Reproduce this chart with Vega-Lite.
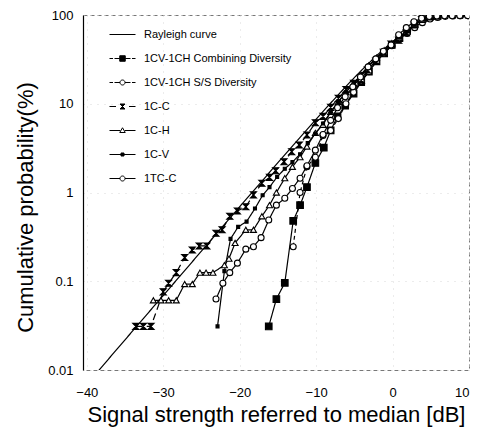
{
  "$schema": "https://vega.github.io/schema/vega-lite/v6.json",
  "width": 386,
  "height": 355,
  "autosize": "none",
  "padding": {"left": 83, "top": 15, "right": 16, "bottom": 60},
  "background": "white",
  "config": {
    "font": "Liberation Sans",
    "view": {"stroke": "#777", "strokeDash": [4, 3], "strokeWidth": 1},
    "axis": {"labelFont": "Liberation Sans", "titleFont": "Liberation Sans", "labelColor": "black", "titleColor": "black", "titleFontWeight": "normal"},
    "legend": {
      "orient": "none",
      "legendX": 34,
      "legendY": 14,
      "padding": 0,
      "symbolSize": 100,
      "symbolStrokeColor": "black",
      "symbolStrokeWidth": 1,
      "labelFont": "Liberation Sans",
      "labelFontSize": 11,
      "labelColor": "black",
      "labelOffset": 16,
      "rowPadding": 12
    }
  },
  "datasets": {
    "d": [
      {"s": "Rayleigh curve", "x": -38.6, "p": 0.0095},
      {"s": "Rayleigh curve", "x": -37, "p": 0.0138},
      {"s": "Rayleigh curve", "x": -35, "p": 0.0219},
      {"s": "Rayleigh curve", "x": -33, "p": 0.0347},
      {"s": "Rayleigh curve", "x": -31, "p": 0.055},
      {"s": "Rayleigh curve", "x": -29, "p": 0.087},
      {"s": "Rayleigh curve", "x": -27, "p": 0.138},
      {"s": "Rayleigh curve", "x": -25, "p": 0.219},
      {"s": "Rayleigh curve", "x": -23, "p": 0.347},
      {"s": "Rayleigh curve", "x": -21, "p": 0.549},
      {"s": "Rayleigh curve", "x": -19, "p": 0.869},
      {"s": "Rayleigh curve", "x": -17, "p": 1.37},
      {"s": "Rayleigh curve", "x": -15, "p": 2.17},
      {"s": "Rayleigh curve", "x": -13, "p": 3.41},
      {"s": "Rayleigh curve", "x": -11, "p": 5.36},
      {"s": "Rayleigh curve", "x": -10, "p": 6.7},
      {"s": "Rayleigh curve", "x": -9, "p": 8.36},
      {"s": "Rayleigh curve", "x": -8, "p": 10.4},
      {"s": "Rayleigh curve", "x": -7, "p": 12.9},
      {"s": "Rayleigh curve", "x": -6, "p": 16.0},
      {"s": "Rayleigh curve", "x": -5, "p": 19.7},
      {"s": "Rayleigh curve", "x": -4, "p": 24.1},
      {"s": "Rayleigh curve", "x": -3, "p": 29.3},
      {"s": "Rayleigh curve", "x": -2, "p": 35.4},
      {"s": "Rayleigh curve", "x": -1, "p": 42.3},
      {"s": "Rayleigh curve", "x": 0, "p": 50},
      {"s": "Rayleigh curve", "x": 1, "p": 58.2},
      {"s": "Rayleigh curve", "x": 2, "p": 66.7},
      {"s": "Rayleigh curve", "x": 3, "p": 74.9},
      {"s": "Rayleigh curve", "x": 4, "p": 82.5},
      {"s": "Rayleigh curve", "x": 5, "p": 88.8},
      {"s": "Rayleigh curve", "x": 6, "p": 93.7},
      {"s": "Rayleigh curve", "x": 7, "p": 96.9},
      {"s": "Rayleigh curve", "x": 8, "p": 98.7},
      {"s": "Rayleigh curve", "x": 10, "p": 99.9},

      {"s": "1CV-1CH Combining Diversity", "x": -16.2, "p": 0.031},
      {"s": "1CV-1CH Combining Diversity", "x": -15.2, "p": 0.063},
      {"s": "1CV-1CH Combining Diversity", "x": -14.1, "p": 0.096},
      {"s": "1CV-1CH Combining Diversity", "x": -13.0, "p": 0.48},
      {"s": "1CV-1CH Combining Diversity", "x": -12.1, "p": 0.72},
      {"s": "1CV-1CH Combining Diversity", "x": -11.2, "p": 1.15},
      {"s": "1CV-1CH Combining Diversity", "x": -10.1, "p": 2.15},
      {"s": "1CV-1CH Combining Diversity", "x": -9.0, "p": 3.2},
      {"s": "1CV-1CH Combining Diversity", "x": -8.1, "p": 5.0},
      {"s": "1CV-1CH Combining Diversity", "x": -7.2, "p": 7.2},
      {"s": "1CV-1CH Combining Diversity", "x": -6.2, "p": 9.5},
      {"s": "1CV-1CH Combining Diversity", "x": -5.1, "p": 13.0},
      {"s": "1CV-1CH Combining Diversity", "x": -4.1, "p": 17.5},
      {"s": "1CV-1CH Combining Diversity", "x": -3.1, "p": 23},
      {"s": "1CV-1CH Combining Diversity", "x": -2.1, "p": 30},
      {"s": "1CV-1CH Combining Diversity", "x": -1.1, "p": 37},
      {"s": "1CV-1CH Combining Diversity", "x": -0.1, "p": 46},
      {"s": "1CV-1CH Combining Diversity", "x": 0.9, "p": 55},
      {"s": "1CV-1CH Combining Diversity", "x": 1.9, "p": 66},
      {"s": "1CV-1CH Combining Diversity", "x": 2.9, "p": 79},
      {"s": "1CV-1CH Combining Diversity", "x": 3.9, "p": 90},
      {"s": "1CV-1CH Combining Diversity", "x": 4.9, "p": 96},
      {"s": "1CV-1CH Combining Diversity", "x": 5.9, "p": 98},

      {"s": "1CV-1CH S/S Diversity", "x": -13.0, "p": 0.245},
      {"s": "1CV-1CH S/S Diversity", "x": -12.1, "p": 1.0},
      {"s": "1CV-1CH S/S Diversity", "x": -11.2, "p": 1.95},
      {"s": "1CV-1CH S/S Diversity", "x": -10.1, "p": 2.5},
      {"s": "1CV-1CH S/S Diversity", "x": -9.1, "p": 4.4},
      {"s": "1CV-1CH S/S Diversity", "x": -8.1, "p": 5.0},
      {"s": "1CV-1CH S/S Diversity", "x": -7.1, "p": 6.8},
      {"s": "1CV-1CH S/S Diversity", "x": -6.1, "p": 10},
      {"s": "1CV-1CH S/S Diversity", "x": -5.1, "p": 13.5},
      {"s": "1CV-1CH S/S Diversity", "x": -4.1, "p": 18},
      {"s": "1CV-1CH S/S Diversity", "x": -3.1, "p": 23},
      {"s": "1CV-1CH S/S Diversity", "x": -2.1, "p": 30},
      {"s": "1CV-1CH S/S Diversity", "x": -1.1, "p": 37},
      {"s": "1CV-1CH S/S Diversity", "x": -0.1, "p": 45},
      {"s": "1CV-1CH S/S Diversity", "x": 0.9, "p": 55},
      {"s": "1CV-1CH S/S Diversity", "x": 1.9, "p": 62},
      {"s": "1CV-1CH S/S Diversity", "x": 2.9, "p": 72},
      {"s": "1CV-1CH S/S Diversity", "x": 3.9, "p": 82},
      {"s": "1CV-1CH S/S Diversity", "x": 4.9, "p": 90},
      {"s": "1CV-1CH S/S Diversity", "x": 5.9, "p": 94},
      {"s": "1CV-1CH S/S Diversity", "x": 6.9, "p": 96.5},
      {"s": "1CV-1CH S/S Diversity", "x": 7.9, "p": 97.5},
      {"s": "1CV-1CH S/S Diversity", "x": 8.9, "p": 98},
      {"s": "1CV-1CH S/S Diversity", "x": 9.9, "p": 98.3},

      {"s": "1C-C", "x": -33.6, "p": 0.031},
      {"s": "1C-C", "x": -32.6, "p": 0.031},
      {"s": "1C-C", "x": -31.6, "p": 0.031},
      {"s": "1C-C", "x": -30.0, "p": 0.076},
      {"s": "1C-C", "x": -29.3, "p": 0.095},
      {"s": "1C-C", "x": -28.3, "p": 0.125},
      {"s": "1C-C", "x": -27.2, "p": 0.185},
      {"s": "1C-C", "x": -26.2, "p": 0.225},
      {"s": "1C-C", "x": -25.3, "p": 0.25},
      {"s": "1C-C", "x": -24.3, "p": 0.25},
      {"s": "1C-C", "x": -23.1, "p": 0.347},
      {"s": "1C-C", "x": -22.3, "p": 0.38},
      {"s": "1C-C", "x": -21.3, "p": 0.54},
      {"s": "1C-C", "x": -20.3, "p": 0.62},
      {"s": "1C-C", "x": -19.2, "p": 0.69},
      {"s": "1C-C", "x": -18.2, "p": 0.94},
      {"s": "1C-C", "x": -17.1, "p": 1.27},
      {"s": "1C-C", "x": -16.1, "p": 1.48},
      {"s": "1C-C", "x": -15.3, "p": 1.76},
      {"s": "1C-C", "x": -14.2, "p": 2.22},
      {"s": "1C-C", "x": -13.2, "p": 2.88},
      {"s": "1C-C", "x": -12.2, "p": 3.43},
      {"s": "1C-C", "x": -11.2, "p": 4.45},
      {"s": "1C-C", "x": -10.1, "p": 6.1},
      {"s": "1C-C", "x": -9.1, "p": 7.2},
      {"s": "1C-C", "x": -8.1, "p": 9.1},
      {"s": "1C-C", "x": -7.1, "p": 11.5},
      {"s": "1C-C", "x": -6.1, "p": 14.5},
      {"s": "1C-C", "x": -5.1, "p": 17.0},
      {"s": "1C-C", "x": -4.1, "p": 18.5},
      {"s": "1C-C", "x": -3.3, "p": 24},
      {"s": "1C-C", "x": -2.2, "p": 30},
      {"s": "1C-C", "x": -1.2, "p": 38},
      {"s": "1C-C", "x": -0.2, "p": 47},
      {"s": "1C-C", "x": 0.8, "p": 52},
      {"s": "1C-C", "x": 1.8, "p": 63},
      {"s": "1C-C", "x": 2.8, "p": 77},
      {"s": "1C-C", "x": 3.8, "p": 89},
      {"s": "1C-C", "x": 4.8, "p": 95},
      {"s": "1C-C", "x": 5.8, "p": 97.5},

      {"s": "1C-H", "x": -31.3, "p": 0.061},
      {"s": "1C-H", "x": -30.3, "p": 0.061},
      {"s": "1C-H", "x": -29.3, "p": 0.061},
      {"s": "1C-H", "x": -28.3, "p": 0.061},
      {"s": "1C-H", "x": -27.2, "p": 0.093},
      {"s": "1C-H", "x": -26.2, "p": 0.093},
      {"s": "1C-H", "x": -25.2, "p": 0.125},
      {"s": "1C-H", "x": -24.4, "p": 0.125},
      {"s": "1C-H", "x": -23.5, "p": 0.125},
      {"s": "1C-H", "x": -22.0, "p": 0.152},
      {"s": "1C-H", "x": -21.4, "p": 0.18},
      {"s": "1C-H", "x": -20.6, "p": 0.27},
      {"s": "1C-H", "x": -19.2, "p": 0.38},
      {"s": "1C-H", "x": -18.2, "p": 0.38},
      {"s": "1C-H", "x": -17.1, "p": 0.54},
      {"s": "1C-H", "x": -16.1, "p": 0.72},
      {"s": "1C-H", "x": -15.2, "p": 1.0},
      {"s": "1C-H", "x": -14.1, "p": 1.45},
      {"s": "1C-H", "x": -13.1, "p": 1.95},
      {"s": "1C-H", "x": -12.1, "p": 2.5},
      {"s": "1C-H", "x": -11.2, "p": 3.3},
      {"s": "1C-H", "x": -10.1, "p": 4.7},
      {"s": "1C-H", "x": -9.1, "p": 5.8},
      {"s": "1C-H", "x": -8.1, "p": 8.1},
      {"s": "1C-H", "x": -7.1, "p": 10.5},
      {"s": "1C-H", "x": -6.1, "p": 13.5},
      {"s": "1C-H", "x": -5.1, "p": 17},
      {"s": "1C-H", "x": -4.1, "p": 21},
      {"s": "1C-H", "x": -3.1, "p": 27},
      {"s": "1C-H", "x": -2.1, "p": 33},
      {"s": "1C-H", "x": -1.1, "p": 40},
      {"s": "1C-H", "x": -0.1, "p": 48},
      {"s": "1C-H", "x": 0.9, "p": 56},
      {"s": "1C-H", "x": 1.9, "p": 67},
      {"s": "1C-H", "x": 2.9, "p": 79},
      {"s": "1C-H", "x": 3.9, "p": 89},
      {"s": "1C-H", "x": 4.9, "p": 95.5},
      {"s": "1C-H", "x": 5.9, "p": 97.8},

      {"s": "1C-V", "x": -22.9, "p": 0.031},
      {"s": "1C-V", "x": -22.0, "p": 0.13},
      {"s": "1C-V", "x": -21.2, "p": 0.3},
      {"s": "1C-V", "x": -20.2, "p": 0.41},
      {"s": "1C-V", "x": -19.1, "p": 0.47},
      {"s": "1C-V", "x": -18.0, "p": 0.66},
      {"s": "1C-V", "x": -17.0, "p": 0.93},
      {"s": "1C-V", "x": -16.1, "p": 1.15},
      {"s": "1C-V", "x": -15.1, "p": 1.5},
      {"s": "1C-V", "x": -14.1, "p": 1.85},
      {"s": "1C-V", "x": -13.1, "p": 2.2},
      {"s": "1C-V", "x": -12.1, "p": 2.7},
      {"s": "1C-V", "x": -11.1, "p": 3.6},
      {"s": "1C-V", "x": -10.1, "p": 4.6},
      {"s": "1C-V", "x": -9.1, "p": 6.0},
      {"s": "1C-V", "x": -8.1, "p": 8.0},
      {"s": "1C-V", "x": -7.1, "p": 10.5},
      {"s": "1C-V", "x": -6.1, "p": 13.5},
      {"s": "1C-V", "x": -5.1, "p": 17},
      {"s": "1C-V", "x": -4.1, "p": 21.5},
      {"s": "1C-V", "x": -3.1, "p": 27},
      {"s": "1C-V", "x": -2.1, "p": 33},
      {"s": "1C-V", "x": -1.1, "p": 40},
      {"s": "1C-V", "x": -0.1, "p": 48},
      {"s": "1C-V", "x": 0.9, "p": 56},
      {"s": "1C-V", "x": 1.9, "p": 66},
      {"s": "1C-V", "x": 2.9, "p": 78},
      {"s": "1C-V", "x": 3.9, "p": 89},
      {"s": "1C-V", "x": 4.9, "p": 95.5},
      {"s": "1C-V", "x": 5.9, "p": 98},

      {"s": "1TC-C", "x": -23.1, "p": 0.063},
      {"s": "1TC-C", "x": -22.2, "p": 0.095},
      {"s": "1TC-C", "x": -21.3, "p": 0.125},
      {"s": "1TC-C", "x": -20.3, "p": 0.16},
      {"s": "1TC-C", "x": -19.2, "p": 0.23},
      {"s": "1TC-C", "x": -18.2, "p": 0.245},
      {"s": "1TC-C", "x": -17.2, "p": 0.31},
      {"s": "1TC-C", "x": -16.2, "p": 0.49},
      {"s": "1TC-C", "x": -15.2, "p": 0.72},
      {"s": "1TC-C", "x": -14.1, "p": 0.86},
      {"s": "1TC-C", "x": -13.1, "p": 1.11},
      {"s": "1TC-C", "x": -12.1, "p": 1.45},
      {"s": "1TC-C", "x": -11.2, "p": 2.0},
      {"s": "1TC-C", "x": -10.1, "p": 3.0},
      {"s": "1TC-C", "x": -9.1, "p": 4.5},
      {"s": "1TC-C", "x": -8.1, "p": 6.5},
      {"s": "1TC-C", "x": -7.2, "p": 9.0},
      {"s": "1TC-C", "x": -6.2, "p": 12.0},
      {"s": "1TC-C", "x": -5.2, "p": 15.5},
      {"s": "1TC-C", "x": -4.2, "p": 20},
      {"s": "1TC-C", "x": -3.2, "p": 26},
      {"s": "1TC-C", "x": -2.2, "p": 32},
      {"s": "1TC-C", "x": -1.2, "p": 39},
      {"s": "1TC-C", "x": -0.2, "p": 46},
      {"s": "1TC-C", "x": 0.8, "p": 60},
      {"s": "1TC-C", "x": 1.8, "p": 72},
      {"s": "1TC-C", "x": 2.8, "p": 84},
      {"s": "1TC-C", "x": 3.8, "p": 92},
      {"s": "1TC-C", "x": 4.8, "p": 96},
      {"s": "1TC-C", "x": 5.8, "p": 97.5},
      {"s": "1TC-C", "x": 6.8, "p": 98},
      {"s": "1TC-C", "x": 7.8, "p": 98.2},
      {"s": "1TC-C", "x": 8.8, "p": 98.3},
      {"s": "1TC-C", "x": 9.8, "p": 98.5}
    ]
  },
  "data": {"name": "d"},
  "encoding": {
    "x": {
      "field": "x", "type": "quantitative",
      "scale": {"domain": [-40.5, 10], "nice": false, "zero": false},
      "axis": {
        "values": [-40, -30, -20, -10, 0, 10],
        "title": "Signal strength referred to median [dB]",
        "titleFontSize": 22, "titlePadding": 5,
        "labelFontSize": 13, "labelPadding": 16,
        "ticks": false, "domain": false,
        "grid": true, "gridColor": "#d8d8d8", "gridDash": [1, 6]
      }
    },
    "y": {
      "field": "p", "type": "quantitative",
      "scale": {"type": "log", "domain": [0.01, 100], "nice": false},
      "axis": {
        "values": [0.01, 0.1, 1, 10, 100],
        "format": "~g",
        "title": "Cumulative probability(%)",
        "titleFontSize": 22, "titlePadding": 10, "titleY": 192,
        "labelFontSize": 13, "labelPadding": 10,
        "ticks": false, "domain": true, "domainColor": "black", "domainWidth": 1.2,
        "grid": true, "gridColor": "#d8d8d8", "gridDash": [1, 6]
      }
    }
  },
  "layer": [
    {
      "mark": {"type": "line", "color": "black", "strokeWidth": 1.2, "clip": true},
      "encoding": {
        "strokeDash": {
          "field": "s",
          "scale": {
            "domain": ["Rayleigh curve", "1CV-1CH Combining Diversity", "1CV-1CH S/S Diversity", "1C-C", "1C-H", "1C-V", "1TC-C"],
            "range": [[1, 0], [1, 0], [4, 3], [7, 4], [1, 0], [1, 0], [1, 0]]
          },
          "legend": null
        }
      }
    },
    {
      "transform": [{"filter": "datum.s !== 'Rayleigh curve'"}],
      "mark": {"type": "point", "stroke": "black", "strokeWidth": 1.1, "size": 36, "opacity": 1, "clip": true},
      "encoding": {
        "shape": {
          "field": "s",
          "scale": {
            "domain": ["1CV-1CH Combining Diversity", "1CV-1CH S/S Diversity", "1C-C", "1C-H", "1C-V", "1TC-C"],
            "range": [
              "M-1.1,-1.1L1.1,-1.1L1.1,1.1L-1.1,1.1Z",
              "circle",
              "M-1,-1L1,-1L-1,1L1,1Z",
              "triangle-up",
              "M-0.5,-0.5L0.5,-0.5L0.5,0.5L-0.5,0.5Z",
              "circle"
            ]
          },
          "legend": null
        },
        "fill": {
          "field": "s",
          "scale": {
            "domain": ["1CV-1CH Combining Diversity", "1CV-1CH S/S Diversity", "1C-C", "1C-H", "1C-V", "1TC-C"],
            "range": ["black", "white", "black", "white", "black", "white"]
          },
          "legend": null
        }
      }
    },
    {
      "transform": [{"filter": "false"}],
      "mark": {"type": "point", "strokeWidth": 1, "filled": false, "opacity": 1},
      "encoding": {
        "shape": {
          "field": "s",
          "scale": {
            "domain": ["Rayleigh curve", "1CV-1CH Combining Diversity", "1CV-1CH S/S Diversity", "1C-C", "1C-H", "1C-V", "1TC-C"],
            "range": [
              "M-2.6,0L2.6,0",
              "M-2.6,0L-1.9,0M-1.6,0L-0.55,0M0.55,0L1.6,0M1.9,0L2.6,0M-0.55,-0.55L0.55,-0.55L0.55,0.55L-0.55,0.55Z",
              "M-2.6,0L-1.9,0M-1.6,0L-0.5,0M0.5,0L1.6,0M1.9,0L2.6,0M0.5,0A0.5,0.5 0 1 1 -0.5,0A0.5,0.5 0 1 1 0.5,0",
              "M-2.6,0L-1.3,0M1.3,0L2.6,0M-0.5,-0.5L0.5,-0.5L-0.5,0.5L0.5,0.5Z",
              "M-2.6,0L-0.45,0M0.45,0L2.6,0M0,-0.55L0.55,0.4L-0.55,0.4Z",
              "M-2.6,0L2.6,0M-0.3,-0.3L0.3,-0.3L0.3,0.3L-0.3,0.3Z",
              "M-2.6,0L-0.5,0M0.5,0L2.6,0M0.5,0A0.5,0.5 0 1 1 -0.5,0A0.5,0.5 0 1 1 0.5,0"
            ]
          },
          "legend": {"title": null}
        },
        "fill": {
          "field": "s",
          "scale": {
            "domain": ["Rayleigh curve", "1CV-1CH Combining Diversity", "1CV-1CH S/S Diversity", "1C-C", "1C-H", "1C-V", "1TC-C"],
            "range": ["white", "black", "white", "black", "white", "black", "white"]
          },
          "legend": {"title": null}
        },
        "stroke": {
          "field": "s",
          "scale": {
            "domain": ["Rayleigh curve", "1CV-1CH Combining Diversity", "1CV-1CH S/S Diversity", "1C-C", "1C-H", "1C-V", "1TC-C"],
            "range": ["black", "black", "black", "black", "black", "black", "black"]
          },
          "legend": {"title": null}
        }
      }
    }
  ],
  "resolve": {"scale": {"shape": "independent", "fill": "independent", "stroke": "independent"}}
}
